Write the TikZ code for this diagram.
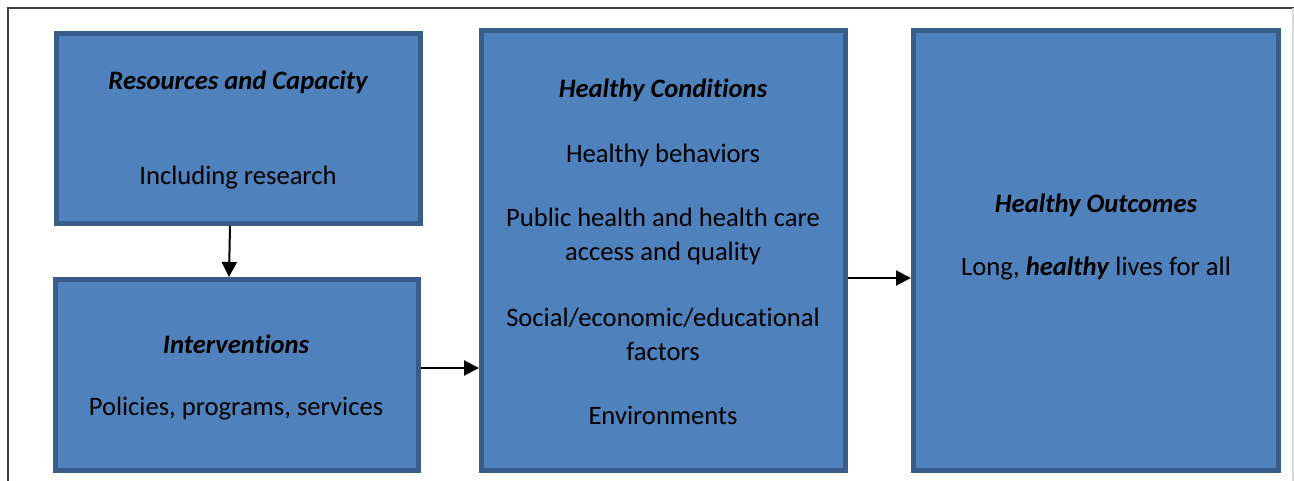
\documentclass[tikz,border=0pt]{standalone}
\usepackage{fontspec}
\setmainfont{Carlito}[Ligatures=NoCommon]
\usetikzlibrary{arrows.meta}
\definecolor{boxfill}{HTML}{4F81BD}
\definecolor{boxline}{HTML}{385D8A}
\begin{document}
\begin{tikzpicture}[x=0.5pt, y=-0.5pt,
  stage/.style={draw=boxline, fill=boxfill, line width=2.5pt, inner sep=0pt},
  txt/.style={font=\fontsize{13.3}{17}\selectfont, align=center, inner sep=0pt},
  head/.style={txt, font=\fontsize{13.3}{17}\selectfont\bfseries\itshape},
  link/.style={line width=1pt, -{Triangle[length=7.5pt, width=7.5pt]}}]
  \useasboundingbox (0,0) rectangle (1294,481);
  % frame
  \draw [black!75, line width=1pt] (8,481) -- (8,8) -- (1294,8);
  \draw [black!15, line width=1pt] (1293,8) -- (1293,481);
  % boxes
  \node [stage, minimum width=182pt, minimum height=95pt] (res) at (238,128.5) {};
  \node [stage, minimum width=181.5pt, minimum height=95.5pt] (int) at (237,375) {};
  \node [stage, minimum width=182pt, minimum height=220pt] (cond) at (663.5,250.5) {};
  \node [stage, minimum width=182.5pt, minimum height=220pt] (out) at (1096,250.5) {};
  % texts
  \node [head] (restitle) at (238,82) {Resources and Capacity};
  \node [txt] (restext) at (238,178) {Including research};
  \node [head] (inttitle) at (236,344) {Interventions};
  \node [txt] (inttext) at (236,409) {Policies, programs, services};
  \node [head] (condtitle) at (663,90) {Healthy Conditions};
  \node [txt] (condbeh) at (663,155) {Healthy behaviors};
  \node [txt] (condcare) at (663,236) {Public health and health care\\access and quality};
  \node [txt] (condsoc) at (663,334) {Social/economic/educational\\factors};
  \node [txt] (condenv) at (663,415) {Environments};
  \node [head] (outtitle) at (1096,205) {Healthy Outcomes};
  \node [txt] (outtext) at (1096,268) {Long, \textbf{\textit{healthy}} lives for all};
  % arrows
  \draw [link] ([xshift=-4pt]res.south) -- ([xshift=-4pt]int.north);
  \draw [link] ([yshift=3.5pt]int.east) -- ([yshift=3.5pt]int.east -| cond.west);
  \draw [link] ([yshift=-13.75pt]cond.east) -- ([yshift=-13.75pt]cond.east -| out.west);
\end{tikzpicture}
\end{document}
